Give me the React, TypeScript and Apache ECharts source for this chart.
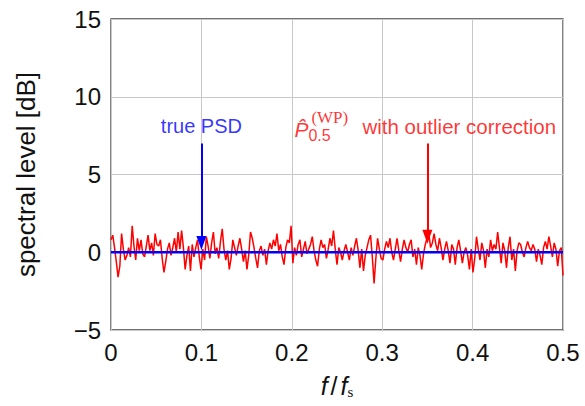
import React, { useEffect, useRef } from "react";
import * as echarts from "echarts";

// normalized frequency grid: 257 bins from 0 to 0.5 (step 1/512)
const binCount = 257;
const freqStep = 1 / 512;

// red: P^(WP)_0.5 with outlier correction [dB]
const wpPsd: number[] = [
  0.8, 1.1, 0.3, -0.6, -1.6, -0.9, 1.2, 0.2, -0.5, -0.2,
  0.3, -0.3, 1.7, 0.4, -0.5, 0.9, 0.1, 0.8, -0.1, -0.3,
  0.4, 1.1, 0.1, 0.6, -0.2, 1.2, 0.5, 0.4, 0.8, -0.4,
  -1.3, -0.6, 0.2, 0.6, -0.2, 0.3, 0.9, 0.0, 1.3, 0.2,
  1.4, 0.3, -1.1, -0.2, 0.4, -1.2, 0.5, -0.3, 0.3, 0.8,
  -0.3, -1.1, 0.2, -0.5, 1.0, 0.4, -0.4, 0.6, 1.3, -0.1,
  0.3, -0.4, 0.7, 1.5, 0.2, -0.5, 0.1, -1.1, -0.4, 0.8,
  0.3, -0.2, 0.4, 0.9, 0.2, -0.6, 0.1, -1.1, -0.2, 1.3,
  0.9, 0.3, -0.4, -1.0, 0.1, 0.4, -0.2, 0.2, -0.8, 0.1,
  0.6, 0.2, 0.8, 0.4, 1.2, 0.1, 0.5, -0.3, -0.8, 0.3,
  0.8, 0.6, 1.7, -0.7, 0.3, -0.2, 0.5, 0.8, -0.3, 0.2,
  0.7, -0.1, 0.2, 0.5, 1.0, 0.1, -0.5, -0.9, 0.2, 0.8,
  0.3, 0.5, -0.4, 0.2, 0.9, 0.4, 1.4, 0.2, -0.8, 0.3,
  0.0, -0.5, 0.1, 0.5, 0.0, -0.5, 0.3, -0.2, 0.4, 0.9,
  0.1, -1.0, 0.2, -1.2, -0.2, 0.3, 0.8, 1.1, -0.3, -2.0,
  -0.4, 0.9, 0.2, -0.4, -0.5, 0.2, 0.7, 0.3, 0.9, 0.0,
  -0.5, 0.2, 0.9, 0.1, -0.6, 0.2, 0.8, 0.3, 0.0, 0.5,
  0.8, -0.3, 0.2, -0.8, 0.3, -0.2, -1.1, -0.1, 0.5, 0.9,
  1.2, 0.3, 0.6, 1.2, 0.5, 0.1, 0.9, 0.3, -0.5, 0.2,
  0.7, 0.1, -0.7, 0.5, 0.2, -0.8, 0.3, 0.8, 0.1, -0.7,
  0.0, 0.3, -0.2, -1.1, 0.2, -1.3, -0.4, 1.0, 0.2, -0.5,
  0.6, 0.1, -1.0, 0.2, -0.3, 0.8, 0.1, 0.5, 0.2, 1.3,
  0.3, -0.7, 0.6, 0.1, -1.0, 0.3, 1.0, -0.5, 0.2, -1.2,
  0.1, 0.6, 0.5, 0.0, -0.3, 0.3, 0.7, 0.3, 0.1, 0.5,
  0.2, -0.6, 0.2, -0.2, -0.8, 0.3, 0.7, 0.2, 1.0, 0.4,
  -0.3, 0.6, 0.2, -0.9, 0.1, 0.3, -1.5,
];

// blue: true PSD [dB]
const trueFreq: number[] = [0, 0.5];
const truePsd: number[] = [0, 0];

// annotations
const blueArrowF = 0.1;
const redArrowF = 0.35;
const arrowFrom = 7;
const blueArrowTo = 0.6;
const redArrowTo = 1.0;
const labelLevel = 8.1;

// axes
const xTicks = { min: 0, max: 0.5, interval: 0.1 };
const yTicks = { min: -5, max: 15, interval: 5 };

const SANS = "Liberation Sans";
const RED = "#ff0000";
const BLUE = "#0000ff";
const CLEAR = "rgba(0,0,0,0)";

export default function App() {
  const ref = useRef<HTMLDivElement>(null);

  useEffect(() => {
    if (!ref.current) return;
    const chart = echarts.init(ref.current, null, { renderer: "svg" });
    const redData = Array.from({ length: binCount }, (_, i) => [i * freqStep, wpPsd[i]]);
    const blueData = trueFreq.map((f, i) => [f, truePsd[i]]);

    chart.setOption({
      animation: false,
      backgroundColor: "#ffffff",
      grid: {
        left: 111,
        right: 22,
        top: 19,
        bottom: 76,
        show: true,
        borderColor: "#444444",
        borderWidth: 1.3,
        backgroundColor: "transparent",
      },
      xAxis: {
        type: "value",
        min: xTicks.min,
        max: xTicks.max,
        interval: xTicks.interval,
        name: "{i|f}{n|/}{i|f}{s|s}",
        nameLocation: "middle",
        nameGap: 42,
        nameTextStyle: {
          rich: {
            i: { fontFamily: SANS, fontStyle: "italic", fontSize: 25, color: "#111" },
            n: { fontFamily: SANS, fontSize: 25, color: "#111", padding: [0, 3, 0, 3] },
            s: { fontFamily: "Liberation Serif", fontSize: 15, color: "#111", padding: [12, 0, 0, 0] },
          },
        },
        axisLine: { show: false },
        axisTick: { show: false },
        axisLabel: {
          fontFamily: SANS,
          fontSize: 24,
          color: "#111",
          margin: 10,
          formatter: (v: number) => (v === 0 ? "0" : String(+v.toFixed(1))),
        },
        splitLine: { show: true, lineStyle: { color: "#c8c8c8", width: 1 } },
      },
      yAxis: {
        type: "value",
        min: yTicks.min,
        max: yTicks.max,
        interval: yTicks.interval,
        name: "spectral level [dB]",
        nameLocation: "middle",
        nameGap: 72,
        nameRotate: 90,
        nameTextStyle: { fontFamily: SANS, fontSize: 26, color: "#111" },
        axisLine: { show: false },
        axisTick: { show: false },
        axisLabel: {
          fontFamily: SANS,
          fontSize: 24,
          color: "#111",
          margin: 10,
          formatter: (v: number) => String(v).replace("-", "\u2212"),
        },
        splitLine: { show: true, lineStyle: { color: "#c8c8c8", width: 1 } },
      },
      series: [
        {
          type: "line",
          data: redData,
          showSymbol: false,
          symbol: "none",
          lineStyle: { color: RED, width: 1.5 },
          z: 2,
          markLine: {
            silent: true,
            symbol: ["none", "triangle"],
            symbolSize: [10, 14],
            label: { show: false },
            lineStyle: { color: RED, width: 2, type: "solid" },
            data: [[{ coord: [redArrowF, arrowFrom] }, { coord: [redArrowF, redArrowTo] }]],
          },
        },
        {
          type: "line",
          data: blueData,
          showSymbol: false,
          symbol: "none",
          lineStyle: { color: BLUE, width: 2.5 },
          z: 3,
          markLine: {
            silent: true,
            symbol: ["none", "triangle"],
            symbolSize: [10, 14],
            label: { show: false },
            lineStyle: { color: BLUE, width: 2, type: "solid" },
            data: [[{ coord: [blueArrowF, arrowFrom] }, { coord: [blueArrowF, blueArrowTo] }]],
          },
        },
        {
          type: "scatter",
          symbolSize: 2,
          itemStyle: { color: CLEAR },
          silent: true,
          z: 5,
          data: [
            {
              value: [blueArrowF, labelLevel],
              label: {
                show: true,
                position: "inside",
                formatter: "true PSD",
                fontFamily: SANS,
                fontSize: 20,
                color: BLUE,
              },
            },
            {
              value: [redArrowF, labelLevel],
              label: {
                show: true,
                position: [-132, 2],
                align: "left",
                verticalAlign: "middle",
                formatter: "{g|}{sp|(WP)}\n{P|P\u0302}{sb|0.5}",
                rich: {
                  g: { width: 17, height: 12, lineHeight: 12 },
                  sp: { fontFamily: "Liberation Serif", fontSize: 17, lineHeight: 12, color: RED },
                  P: {
                    fontFamily: SANS,
                    fontStyle: "italic",
                    fontSize: 21,
                    lineHeight: 20,
                    verticalAlign: "bottom",
                    padding: [0, 0, 3, 0],
                    color: RED,
                  },
                  sb: {
                    fontFamily: SANS,
                    fontSize: 16,
                    lineHeight: 16,
                    verticalAlign: "bottom",
                    color: RED,
                  },
                },
              },
            },
            {
              value: [redArrowF, labelLevel],
              label: {
                show: true,
                position: [-64, 1],
                align: "left",
                verticalAlign: "middle",
                formatter: "with outlier correction",
                fontFamily: SANS,
                fontSize: 20.5,
                color: RED,
              },
            },
          ],
        },
      ],
    });

    return () => chart.dispose();
  }, []);

  return (
    <div
      ref={ref}
      style={{ position: "fixed", left: 0, top: 0, width: 585, height: 406, background: "#fff" }}
    />
  );
}
